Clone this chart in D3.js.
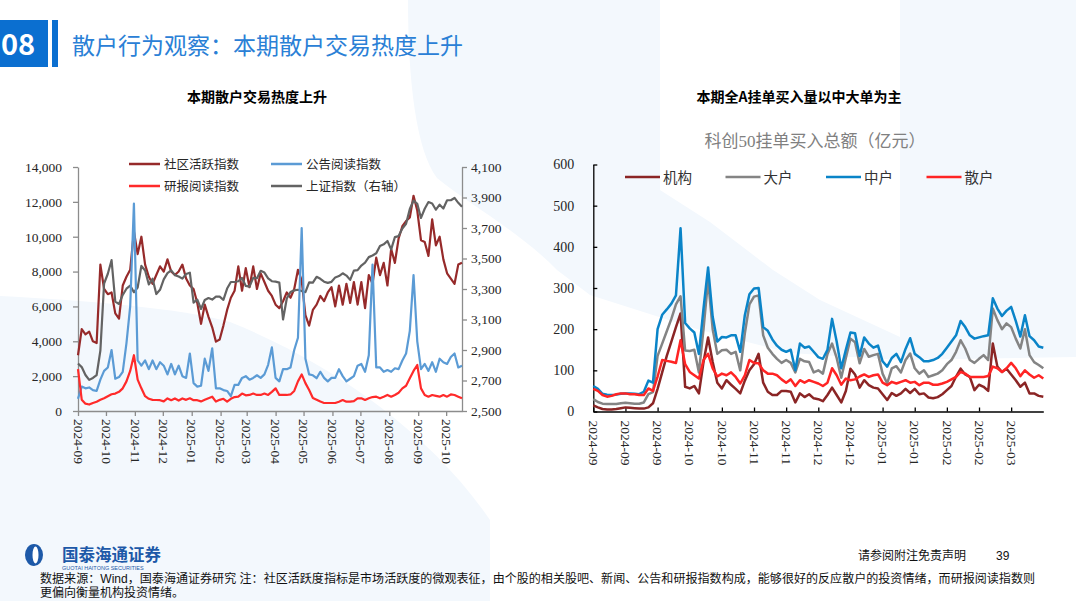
<!DOCTYPE html>
<html>
<head>
<meta charset="utf-8">
<script src="https://cdn.jsdelivr.net/npm/d3@7"></script>
<style>
  body { margin: 0; background: #fff; }
  svg { display: block; }
</style>
</head>
<body>
<svg id="page" width="1076" height="601"></svg>
<script>
// ---- left chart: one point every 4 days from 2024-09-01 ----
var leftStart = '2024-09-01';
var leftStep = 4;
var community = [3200,4700,4400,4550,4000,3900,8400,7000,6700,6800,5600,5300,7200,7700,8100,10300,9000,10000,8400,7700,
  7300,7800,8300,8000,8700,8000,7800,8000,8400,7600,7200,7000,6200,5000,6100,5400,4800,3980,4100,4900,
  5800,6500,6900,8300,6900,8200,7100,8300,7000,7900,7400,6900,6600,6100,5900,6300,6800,6500,7000,8100,
  7500,5500,4900,5800,6100,6600,6300,6800,7100,6000,7200,6100,7300,6200,7400,6100,7400,5900,7800,7300,
  8800,7800,8500,7200,9300,8500,9900,10600,10900,11100,12350,11500,9800,9700,8900,11000,9500,10000,8700,7900,
  7600,7300,8400,8500];
var announce = [700,1400,1300,1350,1200,1150,1800,2300,2500,3500,1850,1950,2250,3900,6000,11900,2900,2600,2900,2400,
  2900,2400,2800,2600,2100,2700,2100,2600,2000,1900,3300,1600,1400,1450,3000,2300,3600,1300,1300,1200,
  1150,850,1500,1500,1900,2000,1800,1900,2050,1900,2100,2650,3650,1900,1700,2400,2400,2500,3500,4200,
  10500,3000,2100,2050,1880,2250,1900,1700,1900,1900,2400,2000,1700,1850,2000,2600,2700,2250,3200,8400,
  2500,2500,2250,2350,2250,2450,2400,2900,3300,4600,7800,4000,2400,2700,2300,2800,2250,3000,2800,2700,
  3100,3300,2500,2600];
var research = [2400,650,420,370,460,530,640,730,850,960,1000,1100,1300,1700,2300,3200,1800,1300,850,700,
  640,630,620,550,720,620,720,600,720,640,730,620,620,550,640,730,820,540,640,700,
  540,700,800,820,1000,900,920,1000,920,920,1000,920,1100,1300,920,920,920,950,1150,1700,
  2100,1600,1200,750,650,540,460,460,460,460,530,630,535,535,570,727,727,630,727,800,
  820,727,820,920,820,920,1050,1300,1450,1874,2300,2640,1300,918,822,918,870,822,918,822,
  950,918,822,727];
var sse = [2811,2788,2736,2704,2717,2736,2896,3336,3400,3489,3217,3202,3261,3302,3322,3279,3310,3452,3421,3330,
  3367,3267,3295,3363,3404,3422,3391,3382,3368,3398,3407,3211,3230,3169,3228,3241,3231,3250,3250,3229,
  3303,3346,3346,3351,3373,3320,3316,3373,3371,3419,3408,3370,3351,3348,3342,3100,3238,3280,3291,3295,
  3287,3279,3343,3342,3380,3367,3348,3340,3347,3376,3385,3403,3388,3360,3420,3424,3454,3473,3509,3520,
  3534,3582,3593,3615,3560,3640,3647,3697,3728,3825,3880,3858,3766,3826,3870,3861,3820,3853,3828,3882,
  3882,3897,3865,3839];
var leftTicks = ['2024-09-01','2024-10-01','2024-11-01','2024-12-01','2025-01-01','2025-02-01','2025-03-01',
  '2025-04-01','2025-05-01','2025-06-01','2025-07-01','2025-08-01','2025-09-01','2025-10-01'];
var leftNames = ['社区活跃指数','公告阅读指数','研报阅读指数','上证指数（右轴）'];
var leftLeftTicks = [0,2000,4000,6000,8000,10000,12000,14000];
var leftRightTicks = [2500,2700,2900,3100,3300,3500,3700,3900,4100];

// ---- right chart: one point every 2 days from 2024-09-02 ----
var rightStart = '2024-09-02';
var rightStep = 2;
var inst = [15,10,6,5,5,6,8,10,9,8,7,7,10,20,55,95,135,170,205,238,
  60,56,62,44,120,180,120,70,56,76,65,55,44,75,100,115,140,70,48,40,
  40,50,50,48,22,44,35,42,32,30,25,40,58,40,22,50,104,90,58,76,
  64,58,56,42,28,45,38,44,55,45,55,42,44,34,32,35,42,52,62,85,
  104,90,84,52,65,60,50,165,109,96,104,90,76,60,70,44,44,38,36];
var big = [30,23,19,18,18,18,20,21,20,19,19,22,42,47,135,165,195,225,260,280,
  148,147,150,95,200,320,200,140,149,150,140,145,100,190,260,279,282,185,155,140,
  128,118,125,118,95,128,122,120,95,100,92,140,165,130,82,130,177,168,117,152,
  133,137,140,92,68,105,110,95,125,141,105,92,100,84,88,92,100,115,125,145,
  173,153,125,118,128,137,125,250,222,200,214,205,177,153,200,137,120,113,105];
var mid = [62,55,43,41,40,41,43,44,44,43,42,48,75,70,200,235,248,262,282,445,
  215,202,192,140,250,350,230,170,181,180,185,185,145,234,285,299,300,205,196,175,
  160,150,145,150,100,165,155,158,145,132,128,150,225,170,105,150,192,190,135,180,
  165,155,160,122,109,130,140,120,152,178,140,132,122,122,125,130,140,155,170,185,
  220,205,185,177,180,183,185,275,250,232,245,254,220,182,234,183,173,158,155];
var retail = [55,50,40,36,38,42,44,44,42,42,40,40,56,50,85,125,123,121,118,173,
  115,96,88,80,125,140,105,85,92,88,95,84,68,88,125,118,117,100,92,92,
  88,78,70,78,62,76,70,76,72,68,62,70,105,88,65,80,76,78,85,90,
  84,88,90,70,64,72,68,72,76,70,72,64,70,70,65,65,68,72,78,84,
  96,92,84,84,84,84,86,109,105,96,105,118,105,86,100,90,82,88,80];
var rightTicks = ['2024-09-02','2024-09-16','2024-09-30','2024-10-14','2024-10-28','2024-11-11','2024-11-25',
  '2024-12-09','2024-12-23','2025-01-06','2025-01-20','2025-02-03','2025-02-17','2025-03-03'];
var rightNames = ['机构','大户','中户','散户'];
var rightYTicks = [0,100,200,300,400,500,600];

var parse = d3.timeParse('%Y-%m-%d');
var fmtMonth = d3.timeFormat('%Y-%m');
var serif = "'Liberation Serif','Noto Sans CJK SC',serif";
var sans = "'Noto Sans CJK SC','Noto Sans',sans-serif";
var footFont = "'Liberation Sans','Noto Sans CJK SC',sans-serif";
var svg = d3.select('#page');

// ---- background decoration ----
var light = '#f3f8fd';
svg.append('path').attr('fill', light)
  .attr('d', 'M408,0 L660,0 L660,190 L710,222 L773,270 L820,300 L900,337 L900,0 L1076,0 L1076,357 L900,360 ' +
    'L790,353 L700,330 L590,295 L557,270 C520,232 470,205 437,178 C416,150 408,80 408,0 Z');
svg.append('path').attr('fill', light)
  .attr('d', 'M0,296 C80,300 180,308 230,322 C330,362 430,432 490,520 L490,601 L0,601 Z');

// ---- header ----
svg.append('rect').attr('x', 0).attr('y', 20).attr('width', 48).attr('height', 47).attr('fill', '#0b6fd0');
svg.append('rect').attr('x', 52).attr('y', 20).attr('width', 6).attr('height', 47).attr('fill', '#0b6fd0');
svg.append('text').attr('x', 18).attr('y', 55).attr('text-anchor', 'middle')
  .style('font-family', sans).style('font-size', '29px').style('font-weight', 'bold').attr('fill', '#fff').text('08');
svg.append('text').attr('x', 72).attr('y', 54)
  .style('font-family', sans).style('font-size', '23px').attr('fill', '#2a80d6')
  .text('散户行为观察：本期散户交易热度上升');

svg.append('text').attr('x', 257).attr('y', 102).attr('text-anchor', 'middle')
  .style('font-family', sans).style('font-size', '14px').style('font-weight', 'bold').attr('fill', '#000')
  .text('本期散户交易热度上升');
svg.append('text').attr('x', 799).attr('y', 102).attr('text-anchor', 'middle')
  .style('font-family', sans).style('font-size', '14px').style('font-weight', 'bold').attr('fill', '#000')
  .text('本期全A挂单买入量以中大单为主');

function styleAxis(g, color) {
  g.select('.domain').attr('stroke', color).attr('stroke-width', 1.3);
  g.selectAll('.tick line').attr('stroke', color).attr('stroke-width', 1.3);
  g.selectAll('text').style('font-family', serif).style('font-size', '13.5px').attr('fill', '#262626');
}

function rotateLabels(g, offset) {
  g.selectAll('.tick text')
    .attr('transform', 'rotate(90)')
    .attr('x', offset).attr('y', 0).attr('dy', '0.35em')
    .style('text-anchor', 'start');
}

// ---- left chart ----
var leftDates = community.map(function (d, i) { return d3.timeDay.offset(parse(leftStart), i * leftStep); });
var xL = d3.scaleTime().domain([parse(leftStart), leftDates[leftDates.length - 1]]).range([78, 462]);
var yL = d3.scaleLinear().domain([0, 14000]).range([411, 167]);
var yR = d3.scaleLinear().domain([2500, 4100]).range([411, 167]);

var gl = svg.append('g');
var axL = gl.append('g').attr('transform', 'translate(78,0)')
  .call(d3.axisLeft(yL).tickValues(leftLeftTicks).tickFormat(d3.format(',')).tickSizeInner(5).tickSizeOuter(0).tickPadding(11));
styleAxis(axL, '#8c8c8c');
var axR = gl.append('g').attr('transform', 'translate(462,0)')
  .call(d3.axisRight(yR).tickValues(leftRightTicks).tickFormat(d3.format(',')).tickSizeInner(5).tickSizeOuter(0).tickPadding(4));
styleAxis(axR, '#8c8c8c');
var axB = gl.append('g').attr('transform', 'translate(0,411)')
  .call(d3.axisBottom(xL).tickValues(leftTicks.map(parse)).tickFormat(fmtMonth).tickSizeInner(5).tickSizeOuter(0));
styleAxis(axB, '#8c8c8c');
rotateLabels(axB, 8);

var leftSeries = [
  { values: community, color: '#962a2a', y: yL },
  { values: sse, color: '#636363', y: yR },
  { values: announce, color: '#5b9bd5', y: yL },
  { values: research, color: '#ff2a2a', y: yL }
];
leftSeries.forEach(function (s) {
  var line = d3.line()
    .x(function (d, i) { return xL(leftDates[i]); })
    .y(function (d) { return s.y(d); });
  gl.append('path').datum(s.values)
    .attr('fill', 'none').attr('stroke', s.color).attr('stroke-width', 2.2)
    .attr('stroke-linejoin', 'round').attr('d', line);
});

// left legend
var legendL = [
  { name: leftNames[0], color: '#962a2a', x: 129, y: 164 },
  { name: leftNames[1], color: '#5b9bd5', x: 271, y: 164 },
  { name: leftNames[2], color: '#ff2a2a', x: 129, y: 186 },
  { name: leftNames[3], color: '#636363', x: 271, y: 186 }
];
legendL.forEach(function (d) {
  gl.append('line').attr('x1', d.x).attr('x2', d.x + 31).attr('y1', d.y).attr('y2', d.y)
    .attr('stroke', d.color).attr('stroke-width', 2.5);
  gl.append('text').attr('x', d.x + 35).attr('y', d.y + 4.5)
    .style('font-family', serif).style('font-size', '12.5px').attr('fill', '#262626').text(d.name);
});

// ---- right chart ----
var rightDates = mid.map(function (d, i) { return d3.timeDay.offset(parse(rightStart), i * rightStep); });
var xR = d3.scaleTime().domain([parse(rightStart), rightDates[rightDates.length - 1]]).range([593.3, 1043.3]);
var yRR = d3.scaleLinear().domain([0, 600]).range([411.5, 164.5]);

var gr = svg.append('g');
gr.append('text').attr('x', 815).attr('y', 147).attr('text-anchor', 'middle')
  .style('font-family', serif).style('font-size', '17px').attr('fill', '#808080')
  .text('科创50挂单买入总额（亿元）');

var axRL = gr.append('g').attr('transform', 'translate(593.3,0)')
  .call(d3.axisLeft(yRR).tickValues(rightYTicks).tickSizeInner(-4).tickSizeOuter(0).tickPadding(19));
styleAxis(axRL, '#000');
axRL.selectAll('text').style('font-size', '14px');
var axRB = gr.append('g').attr('transform', 'translate(0,411.5)')
  .call(d3.axisBottom(xR).tickValues(rightTicks.map(parse)).tickFormat(fmtMonth).tickSizeInner(-4).tickSizeOuter(0));
styleAxis(axRB, '#000');
rotateLabels(axRB, 9);

var rightSeries = [
  { values: inst, color: '#8b2525' },
  { values: big, color: '#848484' },
  { values: mid, color: '#0a84c8' },
  { values: retail, color: '#ff2424' }
];
rightSeries.forEach(function (s) {
  var line = d3.line()
    .x(function (d, i) { return xR(rightDates[i]); })
    .y(function (d) { return yRR(d); });
  gr.append('path').datum(s.values)
    .attr('fill', 'none').attr('stroke', s.color).attr('stroke-width', 2.5)
    .attr('stroke-linejoin', 'round').attr('d', line);
});

// right legend
var legX = [625, 725.5, 826, 926.5];
rightSeries.forEach(function (s, i) {
  gr.append('line').attr('x1', legX[i]).attr('x2', legX[i] + 35).attr('y1', 177).attr('y2', 177)
    .attr('stroke', s.color).attr('stroke-width', 2.5);
  gr.append('text').attr('x', legX[i] + 38).attr('y', 182.5)
    .style('font-family', serif).style('font-size', '14.5px').attr('fill', '#333').text(rightNames[i]);
});

// ---- footer ----
var foot = svg.append('g');
foot.append('ellipse').attr('cx', 34).attr('cy', 555).attr('rx', 9).attr('ry', 11).attr('fill', '#1d59a8');
foot.append('ellipse').attr('cx', 35.5).attr('cy', 555).attr('rx', 3).attr('ry', 8.5).attr('fill', '#fff');
foot.append('text').attr('x', 62).attr('y', 561)
  .style('font-family', footFont).style('font-size', '16.5px').style('font-weight', 'bold').attr('fill', '#1d59a8')
  .text('国泰海通证券');
foot.append('text').attr('x', 62).attr('y', 569.5)
  .style('font-family', footFont).style('font-size', '5.5px').attr('fill', '#1d59a8')
  .text('GUOTAI HAITONG SECURITIES');
foot.append('text').attr('x', 858).attr('y', 560)
  .style('font-family', footFont).style('font-size', '12px').attr('fill', '#111')
  .text('请参阅附注免责声明');
foot.append('text').attr('x', 996).attr('y', 560)
  .style('font-family', footFont).style('font-size', '12px').attr('fill', '#111').text('39');
foot.append('text').attr('x', 40).attr('y', 583).attr('textLength', 995).attr('lengthAdjust', 'spacingAndGlyphs')
  .style('font-family', footFont).style('font-size', '12px').attr('fill', '#111')
  .text('数据来源：Wind，国泰海通证券研究 注：社区活跃度指标是市场活跃度的微观表征，由个股的相关股吧、新闻、公告和研报指数构成，能够很好的反应散户的投资情绪，而研报阅读指数则');
foot.append('text').attr('x', 40).attr('y', 597)
  .style('font-family', footFont).style('font-size', '12px').attr('fill', '#111')
  .text('更偏向衡量机构投资情绪。');
</script>
</body>
</html>
